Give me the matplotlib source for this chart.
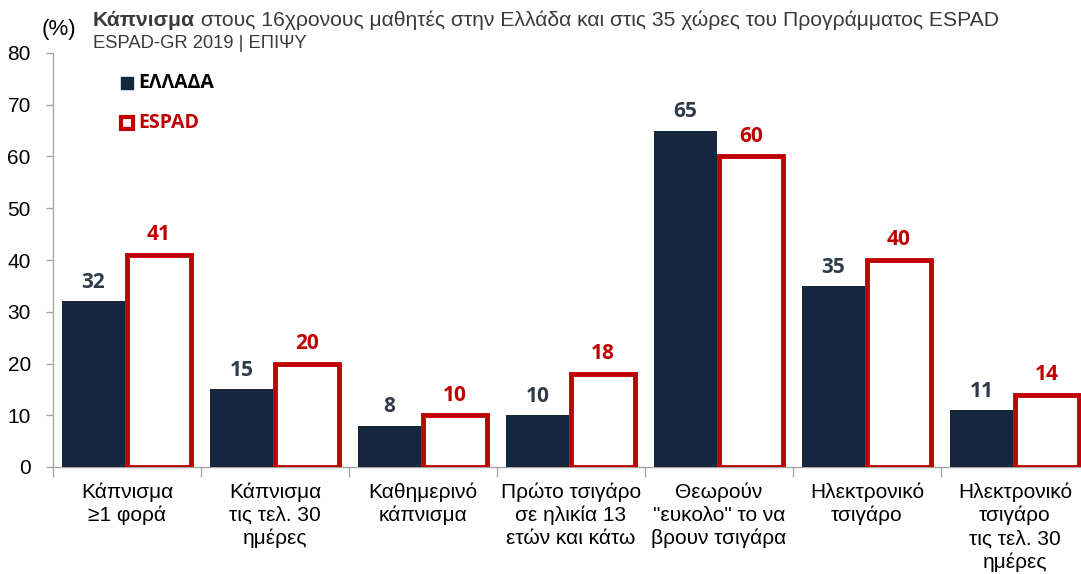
import matplotlib
matplotlib.use("Agg")
import matplotlib.pyplot as plt
import numpy as np

categories = [
    "Κάπνισμα\n≥1 φορά",
    "Κάπνισμα\nτις τελ. 30\nημέρες",
    "Καθημερινό\nκάπνισμα",
    "Πρώτο τσιγάρο\nσε ηλικία 13\nετών και κάτω",
    "Θεωρούν\n\"ευκολο\" το να\nβρουν τσιγάρα",
    "Ηλεκτρονικό\nτσιγάρο",
    "Ηλεκτρονικό\nτσιγάρο\nτις τελ. 30\nημέρες",
]
greece = [32, 15, 8, 10, 65, 35, 11]
espad = [41, 20, 10, 18, 60, 40, 14]

NAVY = "#15273F"
RED = "#C00000"
LABEL_DARK = "#303A4A"
GREY = "#A6A6A6"
SANS = ["Liberation Sans", "DejaVu Sans"]
BOLD = ["Open Sans", "DejaVu Sans"]

fig = plt.figure(figsize=(10.81, 5.74), dpi=100)
W, H = 1081, 574
# axes: left spine at x=53, y=0 at 467px, y=80 at 53px, 7 categories of ~148px
ax = fig.add_axes([53 / W, (H - 467) / H, 1036 / W, 414 / H])

x = np.arange(len(categories))
ax.bar(x - 0.226, greece, width=0.425, color=NAVY, zorder=3)
ax.bar(x + 0.216, espad, width=0.427, color="white", edgecolor=RED,
       linewidth=3.5, zorder=3)

for xi, v in zip(x, greece):
    ax.annotate(str(v), (xi - 0.226, v), xytext=(0, 6), textcoords="offset points",
                ha="center", va="bottom", fontsize=15, fontweight="bold",
                color=LABEL_DARK, family=BOLD)
for xi, v in zip(x, espad):
    ax.annotate(str(v), (xi + 0.216, v), xytext=(0, 7), textcoords="offset points",
                ha="center", va="bottom", fontsize=15, fontweight="bold",
                color=RED, family=BOLD)

ax.set_xlim(-0.5, len(categories) - 0.5)
ax.set_ylim(0, 80)
ax.set_yticks(range(0, 81, 10))
ax.tick_params(axis="y", labelsize=15, colors=GREY, labelcolor="black",
               length=5, width=1, pad=11)
for lab in ax.get_yticklabels():
    lab.set_family(SANS)

ax.set_xticks(np.arange(len(categories) + 1) - 0.5)
ax.set_xticklabels([])
ax.tick_params(axis="x", which="major", colors=GREY, length=7, width=1)
ax.set_xticks(x, minor=True)
ax.set_xticklabels(categories, minor=True, fontsize=15, family=SANS,
                   linespacing=1.26)
ax.tick_params(axis="x", which="minor", length=0, pad=11, labelcolor="black")

for s in ["top", "right"]:
    ax.spines[s].set_visible(False)
for s in ["left", "bottom"]:
    ax.spines[s].set_color(GREY)
    ax.spines[s].set_linewidth(1)

# legend drawn by hand
ax.plot([0.071], [0.927], marker="s", markersize=9, color=NAVY,
        transform=ax.transAxes, clip_on=False)
ax.text(0.082, 0.927, "ΕΛΛΑΔΑ", transform=ax.transAxes, va="center",
        fontsize=14, fontweight="bold", color="black", family=BOLD)
ax.plot([0.071], [0.830], marker="s", markersize=9, markerfacecolor="white",
        markeredgecolor=RED, markeredgewidth=3, transform=ax.transAxes,
        clip_on=False)
ax.text(0.082, 0.830, "ESPAD", transform=ax.transAxes, va="center",
        fontsize=14, fontweight="bold", color=RED, family=BOLD)

# title block
fig.text(42 / W, 1 - 30 / H, "(%)", fontsize=16, va="center", family=SANS)
t1 = fig.text(93 / W, 1 - 20 / H, "Κάπνισμα", fontsize=15.2, fontweight="bold",
              color="#3A3A3A", va="center", family=SANS)
bb = t1.get_window_extent(renderer=fig.canvas.get_renderer())
fig.text(bb.x1 / W, 1 - 20 / H,
         " στους 16χρονους μαθητές στην Ελλάδα και στις 35 χώρες του Προγράμματος ESPAD",
         fontsize=15.2, color="#3A3A3A", va="center", family=SANS)
fig.text(93 / W, 1 - 43 / H, "ESPAD-GR 2019 | ΕΠΙΨΥ", fontsize=13.2,
         color="#3A3A3A", va="center", family=SANS)

fig.savefig("out.png", dpi=100)
